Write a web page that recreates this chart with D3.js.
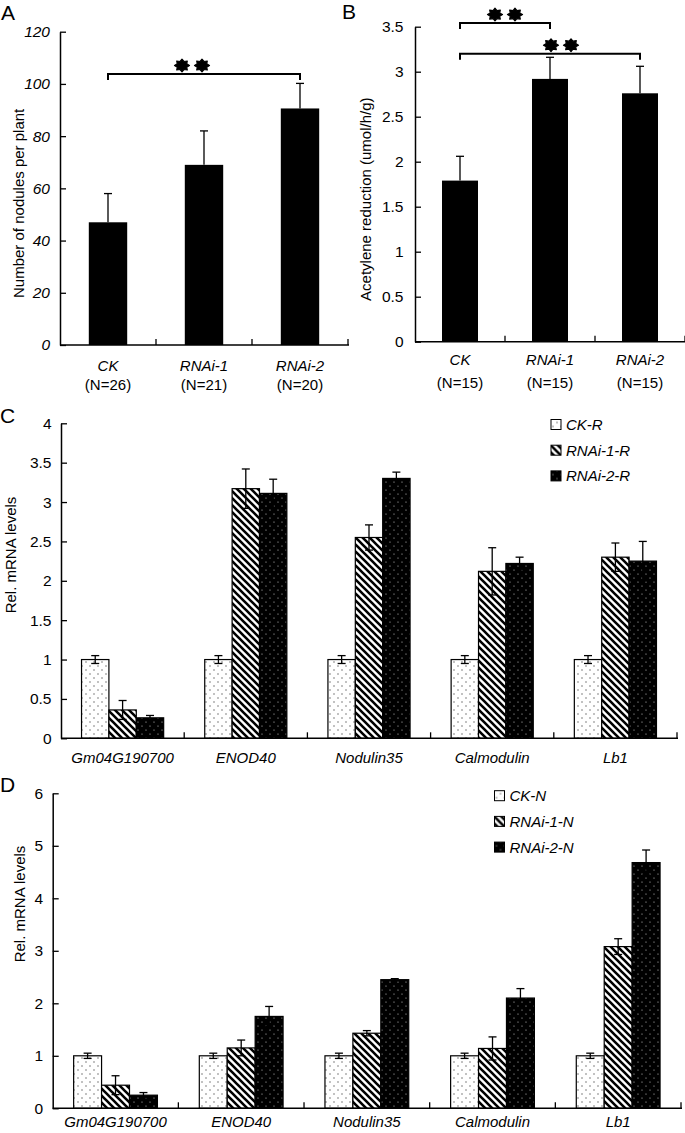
<!DOCTYPE html>
<html>
<head>
<meta charset="utf-8">
<script src="https://cdn.jsdelivr.net/npm/d3@7"></script>
<style>
body { margin: 0; background: #fff; }
text { font-family: "Liberation Sans", Arial, sans-serif; }
</style>
</head>
<body>
<div id="vis"></div>
<script>
// panels A and B
const groupsAB = ["CK", "RNAi-1", "RNAi-2"];
const nodules = [47, 69, 90.6];
const nodulesErr = [11, 13, 9.6];
const nodulesN = ["(N=26)", "(N=21)", "(N=20)"];
const acetylene = [1.79, 2.92, 2.76];
const acetyleneErr = [0.27, 0.24, 0.30];
const acetyleneN = ["(N=15)", "(N=15)", "(N=15)"];

// panels C and D
const genes = ["Gm04G190700", "ENOD40", "Nodulin35", "Calmodulin", "Lb1"];
const seriesC = ["CK-R", "RNAi-1-R", "RNAi-2-R"];
const ckR = [1, 1, 1, 1, 1];
const rnai1R = [0.36, 3.17, 2.55, 2.12, 2.30];
const rnai2R = [0.26, 3.11, 3.30, 2.22, 2.25];
const ckRErr = [0.05, 0.05, 0.05, 0.05, 0.05];
const rnai1RErr = [0.12, 0.25, 0.16, 0.30, 0.18];
const rnai2RErr = [0.03, 0.18, 0.08, 0.08, 0.25];

const seriesD = ["CK-N", "RNAi-1-N", "RNAi-2-N"];
const ckN = [1, 1, 1, 1, 1];
const rnai1N = [0.44, 1.15, 1.43, 1.14, 3.08];
const rnai2N = [0.25, 1.75, 2.45, 2.10, 4.68];
const ckNErr = [0.05, 0.05, 0.05, 0.05, 0.05];
const rnai1NErr = [0.18, 0.15, 0.05, 0.22, 0.15];
const rnai2NErr = [0.05, 0.19, 0.02, 0.18, 0.24];

const ticksA = [0, 20, 40, 60, 80, 100, 120];
const ticksB = [0, 0.5, 1, 1.5, 2, 2.5, 3, 3.5];
const ticksC = [0, 0.5, 1, 1.5, 2, 2.5, 3, 3.5, 4];
const ticksD = [0, 1, 2, 3, 4, 5, 6];

const W = 685, H = 1133;
const svg = d3.select("#vis").append("svg")
    .attr("width", W).attr("height", H);
svg.append("rect").attr("width", W).attr("height", H).attr("fill", "#fff");

// fill patterns
const defs = svg.append("defs");
const dots = defs.append("pattern").attr("id", "dots")
    .attr("width", 8).attr("height", 8).attr("patternUnits", "userSpaceOnUse");
dots.append("rect").attr("width", 8).attr("height", 8).attr("fill", "#fff");
dots.append("circle").attr("cx", 2).attr("cy", 2).attr("r", 0.75).attr("fill", "#666");
dots.append("circle").attr("cx", 6).attr("cy", 6).attr("r", 0.75).attr("fill", "#666");

const hatch = defs.append("pattern").attr("id", "hatch")
    .attr("width", 7).attr("height", 7).attr("patternUnits", "userSpaceOnUse");
hatch.append("rect").attr("width", 7).attr("height", 7).attr("fill", "#fff");
hatch.append("path").attr("d", "M-1,-1L8,8M-1,6L1,8M6,-1L8,1")
    .attr("stroke", "#000").attr("stroke-width", 2.6);

const blackDots = defs.append("pattern").attr("id", "blackdots")
    .attr("width", 8).attr("height", 8).attr("patternUnits", "userSpaceOnUse");
blackDots.append("rect").attr("width", 8).attr("height", 8).attr("fill", "#000");
blackDots.append("circle").attr("cx", 2).attr("cy", 2).attr("r", 0.6).attr("fill", "#ccc");
blackDots.append("circle").attr("cx", 6).attr("cy", 6).attr("r", 0.6).attr("fill", "#ccc");

const FILLS = ["url(#dots)", "url(#hatch)", "url(#blackdots)"];

function starPath(r) {
    const pts = d3.range(16).map(i => {
        const a = i * Math.PI / 8;
        const rr = i % 2 ? r * 0.68 : r;
        return [Math.sin(a) * rr, -Math.cos(a) * rr * 0.85];
    });
    return "M" + pts.join("L") + "Z";
}

function panelLetter(label, x, y) {
    svg.append("text").attr("x", x).attr("y", y)
        .attr("font-size", "21px").text(label);
}

function yAxis(y, x0, ticks, pad, italic) {
    const g = svg.append("g").attr("transform", "translate(" + x0 + ",0)")
        .call(d3.axisLeft(y).tickValues(ticks).tickFormat(d => String(d))
            .tickSizeInner(-6).tickSizeOuter(0).tickPadding(pad));
    g.select(".domain").attr("stroke-width", 1.5);
    g.selectAll(".tick line").attr("stroke-width", 1.3);
    g.selectAll(".tick text").attr("font-size", "15.5px")
        .attr("font-family", '"Liberation Sans", Arial, sans-serif')
        .attr("font-style", italic ? "italic" : "normal");
}

function xAxis(x, y0) {
    const r = x.range();
    svg.append("line").attr("x1", r[0]).attr("x2", r[1] + 1)
        .attr("y1", y0).attr("y2", y0)
        .attr("stroke", "#000").attr("stroke-width", 1.5);
    const edges = x.domain().slice(1).map(d => x(d)).concat([r[1]]);
    svg.selectAll(null).data(edges).enter().append("line")
        .attr("x1", d => d).attr("x2", d => d)
        .attr("y1", y0).attr("y2", y0 - 6)
        .attr("stroke", "#000").attr("stroke-width", 1.3);
}

function yLabel(text, x, y) {
    svg.append("text").attr("transform", "translate(" + x + "," + y + ") rotate(-90)")
        .attr("text-anchor", "middle").attr("font-size", "15px").text(text);
}

// A and B: black bars with upward error bars
function simplePanel(o) {
    const x = d3.scaleBand().domain(groupsAB).range(o.xr);
    const y = d3.scaleLinear().domain([0, o.max]).range(o.yr);
    const bw = x.bandwidth() * 0.4;
    const rows = groupsAB.map((g, i) => ({g: g, v: o.values[i], e: o.errs[i], n: o.ns[i]}));

    svg.selectAll(null).data(rows).enter().append("rect")
        .attr("x", d => x(d.g) + (x.bandwidth() - bw) / 2)
        .attr("y", d => y(d.v))
        .attr("width", bw)
        .attr("height", d => y(0) - y(d.v))
        .attr("fill", "#000");

    const eb = svg.selectAll(null).data(rows).enter().append("g")
        .attr("stroke", "#000").attr("stroke-width", 1.3);
    eb.append("line")
        .attr("x1", d => x(d.g) + x.bandwidth() / 2).attr("x2", d => x(d.g) + x.bandwidth() / 2)
        .attr("y1", d => y(d.v)).attr("y2", d => y(d.v + d.e));
    eb.append("line")
        .attr("x1", d => x(d.g) + x.bandwidth() / 2 - 4).attr("x2", d => x(d.g) + x.bandwidth() / 2 + 4)
        .attr("y1", d => y(d.v + d.e)).attr("y2", d => y(d.v + d.e));

    yAxis(y, o.xr[0], o.ticks, o.pad, o.italic);
    xAxis(x, y(0));
    yLabel(o.label, o.labelX, (o.yr[0] + o.yr[1]) / 2 + 15);

    svg.selectAll(null).data(rows).enter().append("text")
        .attr("x", d => x(d.g) + x.bandwidth() / 2).attr("y", o.catY)
        .attr("text-anchor", "middle").attr("font-size", "15px")
        .attr("font-style", "italic").text(d => d.g);
    svg.selectAll(null).data(rows).enter().append("text")
        .attr("x", d => x(d.g) + x.bandwidth() / 2).attr("y", o.nY)
        .attr("text-anchor", "middle").attr("font-size", "15px").text(d => d.n);

    // significance brackets
    o.brackets.forEach(b => {
        const x1 = x(b.from) + x.bandwidth() / 2;
        const x2 = x(b.to) + x.bandwidth() / 2;
        const yy = y(b.level);
        svg.append("path")
            .attr("d", "M" + x1 + "," + (yy + 6) + "V" + yy + "H" + x2 + "V" + (yy + 6))
            .attr("fill", "none").attr("stroke", "#000").attr("stroke-width", 2);
        const mid = (x1 + x2) / 2 + b.dx;
        [-10, 10].forEach(off => {
            svg.append("path").attr("d", starPath(7.5))
                .attr("transform", "translate(" + (mid + off) + "," + (yy - 8.5) + ")")
                .attr("fill", "#000").attr("stroke", "#000")
                .attr("stroke-width", 1.2).attr("stroke-linejoin", "round");
        });
    });
}

// C and D: grouped patterned bars
function groupedPanel(o) {
    const x = d3.scaleBand().domain(genes).range(o.xr);
    const x1 = d3.scaleBand().domain(o.series)
        .range([x.bandwidth() / 6, x.bandwidth() * 5 / 6]);
    const y = d3.scaleLinear().domain([0, o.max]).range(o.yr);

    const rows = [];
    genes.forEach((g, i) => {
        o.series.forEach((s, j) => {
            rows.push({g: g, s: s, j: j, v: o.values[j][i], e: o.errs[j][i]});
        });
    });

    svg.selectAll(null).data(rows).enter().append("rect")
        .attr("x", d => x(d.g) + x1(d.s))
        .attr("y", d => y(d.v))
        .attr("width", x1.bandwidth())
        .attr("height", d => y(0) - y(d.v))
        .attr("fill", d => FILLS[d.j])
        .attr("stroke", "#000").attr("stroke-width", 1.2);

    const eb = svg.selectAll(null).data(rows).enter().append("g")
        .attr("stroke", "#000").attr("stroke-width", 1.3);
    const cx = d => x(d.g) + x1(d.s) + x1.bandwidth() / 2;
    eb.append("line").attr("x1", cx).attr("x2", cx)
        .attr("y1", d => y(d.v - d.e)).attr("y2", d => y(d.v + d.e));
    eb.append("line").attr("x1", d => cx(d) - 4).attr("x2", d => cx(d) + 4)
        .attr("y1", d => y(d.v + d.e)).attr("y2", d => y(d.v + d.e));
    eb.append("line").attr("x1", d => cx(d) - 4).attr("x2", d => cx(d) + 4)
        .attr("y1", d => y(d.v - d.e)).attr("y2", d => y(d.v - d.e));

    yAxis(y, o.xr[0], o.ticks, o.pad, false);
    xAxis(x, y(0));
    yLabel("Rel. mRNA levels", o.labelX, o.labelY);

    svg.selectAll(null).data(genes).enter().append("text")
        .attr("x", d => x(d) + x.bandwidth() / 2).attr("y", o.catY)
        .attr("text-anchor", "middle").attr("font-size", "15px")
        .attr("font-style", "italic").text(d => d);

    const lg = svg.append("g").attr("transform", "translate(" + o.legend[0] + "," + o.legend[1] + ")");
    o.series.forEach((s, j) => {
        lg.append("rect").attr("x", 0).attr("y", j * 25.7 - 5)
            .attr("width", 10).attr("height", 10)
            .attr("fill", FILLS[j]).attr("stroke", "#000").attr("stroke-width", 1);
        lg.append("text").attr("x", 15).attr("y", j * 25.7 + 5.5)
            .attr("font-size", "15px").attr("font-style", "italic").text(s);
    });
}

panelLetter("A", 1, 20);
simplePanel({
    xr: [60, 348], yr: [345, 31.7], max: 120, ticks: ticksA, pad: 10, italic: true,
    values: nodules, errs: nodulesErr, ns: nodulesN,
    label: "Number of nodules per plant", labelX: 24,
    catY: 371, nY: 390,
    brackets: [{from: "CK", to: "RNAi-2", level: 103.8, dx: -12}]
});

panelLetter("B", 342, 19);
simplePanel({
    xr: [415, 685], yr: [341.7, 26.7], max: 3.5, ticks: ticksB, pad: 11.5, italic: false,
    values: acetylene, errs: acetyleneErr, ns: acetyleneN,
    label: "Acetylene reduction (umol/h/g)", labelX: 371,
    catY: 365, nY: 388,
    brackets: [{from: "CK", to: "RNAi-1", level: 3.54, dx: 0},
               {from: "CK", to: "RNAi-2", level: 3.2, dx: 11}]
});

panelLetter("C", 0, 423);
groupedPanel({
    xr: [61, 677], yr: [738.3, 423.3], max: 4, ticks: ticksC, pad: 9.5,
    series: seriesC, values: [ckR, rnai1R, rnai2R], errs: [ckRErr, rnai1RErr, rnai2RErr],
    labelX: 16, labelY: 555, catY: 763, legend: [551, 424.5]
});

panelLetter("D", 0, 792);
groupedPanel({
    xr: [52.7, 681], yr: [1108.3, 793.3], max: 6, ticks: ticksD, pad: 9.5,
    series: seriesD, values: [ckN, rnai1N, rnai2N], errs: [ckNErr, rnai1NErr, rnai2NErr],
    labelX: 25, labelY: 904, catY: 1127, legend: [494.5, 795.7]
});
</script>
</body>
</html>
